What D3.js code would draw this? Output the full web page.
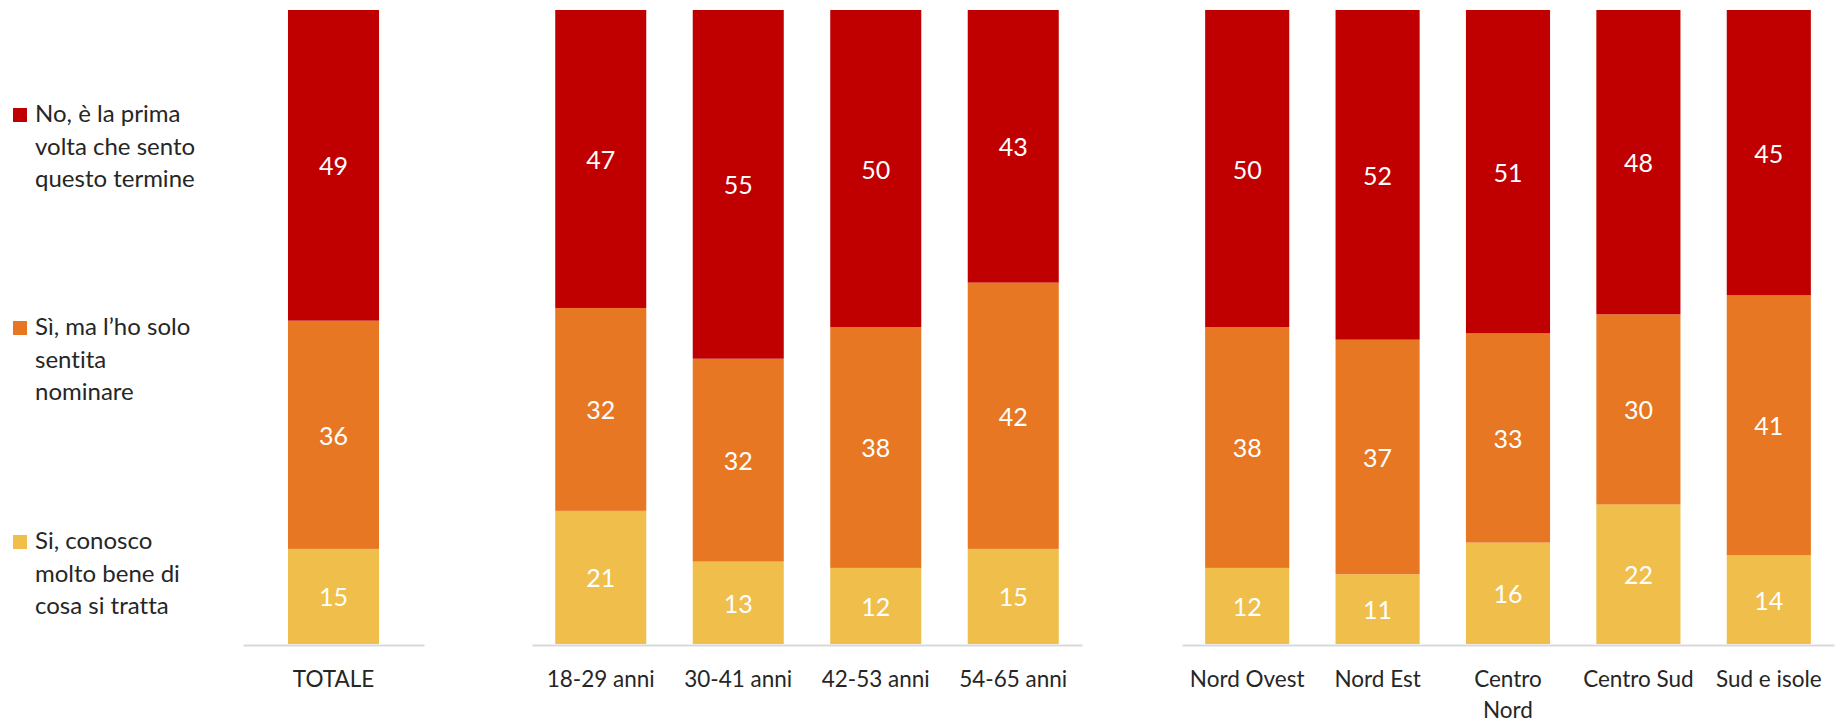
<!DOCTYPE html>
<html>
<head>
<meta charset="utf-8">
<script src="https://cdn.jsdelivr.net/npm/d3@7"></script>
<style>
  html, body { margin: 0; padding: 0; background: #ffffff; }
  svg { display: block; font-family: Lato, "Open Sans", sans-serif; font-variant-ligatures: none; }
</style>
</head>
<body>
<svg id="chart" width="1841" height="724"></svg>
<script>
// ---- Data ----
const totalCats = ["TOTALE"];
const ageCats = ["18-29 anni", "30-41 anni", "42-53 anni", "54-65 anni"];
const areaCats = ["Nord Ovest", "Nord Est", "Centro Nord", "Centro Sud", "Sud e isole"];
const areaTickLabels = ["Nord Ovest", "Nord Est", "Centro\nNord", "Centro Sud", "Sud e isole"];

const seriesKeys = ["bene", "sentita", "prima"];
const seriesNames = [
  "Si, conosco molto bene di cosa si tratta",
  "Sì, ma l’ho solo sentita nominare",
  "No, è la prima volta che sento questo termine"
];
const legendLines = [
  ["No, è la prima", "volta che sento", "questo termine"],
  ["Sì, ma l’ho solo", "sentita", "nominare"],
  ["Si, conosco", "molto bene di", "cosa si tratta"]
];
// order: TOTALE, age groups, areas
const conoscoBene = [15, 21, 13, 12, 15, 12, 11, 16, 22, 14];
const soloSentita = [36, 32, 32, 38, 42, 38, 37, 33, 30, 41];
const primaVolta  = [49, 47, 55, 50, 43, 50, 52, 51, 48, 45];

const colors = { bene: "#F0BE4B", sentita: "#E77722", prima: "#C00000" };

// ---- Build rows ----
const allCats = totalCats.concat(ageCats, areaCats);
const groupOf = c => totalCats.includes(c) ? "tot" : (ageCats.includes(c) ? "age" : "area");
const rows = allCats.map((c, i) => ({
  cat: c, group: groupOf(c),
  bene: conoscoBene[i], sentita: soloSentita[i], prima: primaVolta[i]
}));

const svg = d3.select("#chart");
const yTop = 10, yBottom = 644;
const y = d3.scaleLinear().domain([0, 100]).range([yBottom, yTop]);

function band(domain, r0, r1, p) {
  return d3.scaleBand().domain(domain).range([r0, r1]).paddingInner(p).paddingOuter(p / 2);
}
const xScales = {
  tot: band(totalCats, 243, 424, 0.497),
  age: band(ageCats, 532, 1082, 0.338),
  area: band(areaCats, 1182, 1834, 0.355)
};

const stacked = d3.stack().keys(seriesKeys)(rows);

// ---- Bars ----
const layers = svg.append("g").selectAll("g.layer")
  .data(stacked).enter().append("g")
  .attr("class", "layer")
  .attr("fill", d => colors[d.key]);

layers.selectAll("rect")
  .data(d => d).enter().append("rect")
  .attr("x", d => xScales[d.data.group](d.data.cat))
  .attr("width", d => xScales[d.data.group].bandwidth())
  .attr("y", d => y(d[1]))
  .attr("height", d => y(d[0]) - y(d[1]));

// ---- Data labels ----
layers.selectAll("text")
  .data(d => d).enter().append("text")
  .attr("x", d => xScales[d.data.group](d.data.cat) + xScales[d.data.group].bandwidth() / 2)
  .attr("y", d => (y(d[0]) + y(d[1])) / 2)
  .attr("text-anchor", "middle")
  .attr("dominant-baseline", "central")
  .attr("fill", "#ffffff")
  .attr("font-size", "25px")
  .text(d => d[1] - d[0]);

// ---- Axes ----
const tickLabelMap = {};
areaCats.forEach((c, i) => tickLabelMap[c] = areaTickLabels[i]);

["tot", "age", "area"].forEach(g => {
  const ax = svg.append("g")
    .attr("transform", `translate(0,${yBottom + 1})`)
    .call(d3.axisBottom(xScales[g]).tickSize(0).tickSizeOuter(0)
      .tickFormat(c => tickLabelMap[c] || c));
  ax.select(".domain").attr("stroke", "#D9D9D9").attr("stroke-width", 2);
  ax.attr("font-family", null).attr("font-size", null);
  ax.selectAll(".tick text").each(function () {
    const t = d3.select(this);
    const lines = t.text().split("\n");
    t.text(null).attr("y", null).attr("dy", null)
      .attr("fill", "#262626").attr("font-size", "22.5px");
    lines.forEach((ln, i) => {
      t.append("tspan").attr("x", 0).attr("y", 42 + i * 31).text(ln);
    });
  });
});

// ---- Legend ----
const legendBaselines = [122, 335, 549];
const legendKeys = ["prima", "sentita", "bene"];
const leg = svg.append("g");
legendKeys.forEach((k, i) => {
  const b = legendBaselines[i];
  leg.append("rect").attr("x", 13).attr("y", b - 14).attr("width", 14).attr("height", 14)
    .attr("fill", colors[k]);
  const t = leg.append("text").attr("fill", "#262626").attr("font-size", "24px");
  legendLines[i].forEach((ln, j) => {
    t.append("tspan").attr("x", 35).attr("y", b + j * 32.5).text(ln);
  });
});
</script>
</body>
</html>
